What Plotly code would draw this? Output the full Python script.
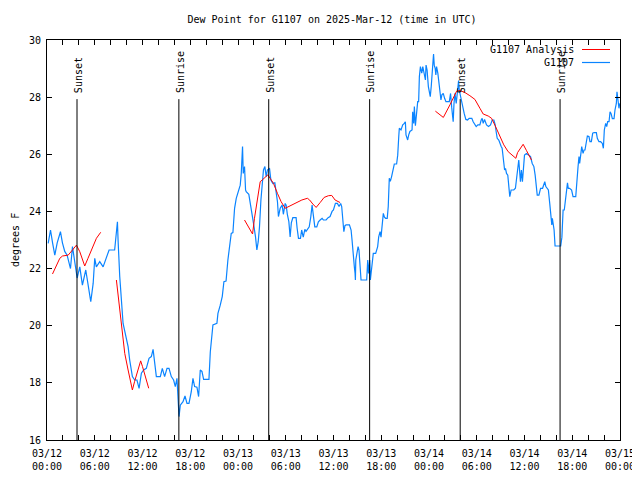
import plotly.graph_objects as go
import pandas as pd

# ---------------- data (hours after 2025-03-12 00:00 UTC, dew point in F) -------------
obs_hours = [
    0.15, 0.44, 0.70, 0.98, 1.28, 1.69, 1.94, 2.23, 2.53, 2.95, 3.20, 3.49, 3.79, 4.12, 4.45,
    4.87, 5.17, 5.50, 5.80, 6.00, 6.20, 6.63, 7.05, 7.47, 7.80, 8.50, 8.72, 8.85, 8.93, 9.14,
    9.56, 9.89, 10.19, 10.39, 10.73, 11.02, 11.30, 11.57, 11.86, 12.15, 12.48, 12.82, 13.11,
    13.33, 13.53, 13.74, 14.24, 14.49, 14.78, 15.08, 15.33, 15.62, 15.91, 16.12, 16.33, 16.46,
    16.59, 16.75, 17.09, 17.34, 17.59, 17.84, 18.13, 18.34, 18.55, 18.84, 19.05, 19.26, 19.47,
    19.68, 20.35, 20.52, 20.73, 20.85, 21.35, 21.48, 21.77, 22.02, 22.23, 22.50, 22.73, 22.94,
    23.15, 23.36, 23.57, 23.78, 24.07, 24.28, 24.41, 24.57, 24.66, 24.82, 24.95, 25.03, 25.36,
    25.53, 25.78, 25.95, 26.20, 26.37, 26.54, 26.70, 26.88, 27.04, 27.20, 27.38, 27.54, 27.70,
    27.96, 28.13, 28.38, 28.63, 28.80, 28.96, 29.08, 29.30, 29.55, 29.70, 29.93, 30.05, 30.20,
    30.39, 30.55, 30.70, 30.89, 31.30, 31.43, 31.60, 31.85, 32.00, 32.20, 32.40, 32.55, 32.74,
    32.95, 33.15, 33.31, 33.49, 33.65, 33.90, 34.10, 34.32, 34.57, 34.74, 35.07, 35.32, 35.57,
    35.82, 35.99, 36.24, 36.49, 36.70, 36.90, 37.03, 37.17, 37.30, 37.44, 37.58, 38.00, 38.21,
    38.33, 38.42, 38.50, 38.62, 38.71, 38.75, 38.80, 39.09, 39.20, 39.26, 39.36, 39.46, 40.17,
    40.30, 40.40, 40.55, 40.63, 40.84, 41.00, 41.30, 41.55, 41.68, 41.85, 41.97, 42.10, 42.26,
    42.40, 42.55, 42.75, 42.88, 43.01, 43.14, 43.30, 43.43, 43.64, 43.93, 44.07, 44.20, 44.27,
    44.48, 44.70, 44.90, 45.03, 45.11, 45.32, 45.45, 45.60, 45.87, 45.95, 46.08, 46.16, 46.29,
    46.46, 46.58, 46.70, 46.79, 46.92, 47.09, 47.22, 47.42, 47.55, 47.63, 47.76, 47.92, 48.03,
    48.16, 48.28, 48.37, 48.49, 48.57, 48.66, 48.78, 48.86, 48.95, 49.11, 49.24, 49.36, 49.50,
    49.62, 49.79, 49.96, 50.08, 50.13, 50.55, 50.71, 50.85, 50.96, 51.04, 51.14, 51.26, 51.42,
    51.60, 51.72, 51.80, 52.00, 52.20, 52.42, 52.63, 52.84, 53.05, 53.38, 53.55, 53.93, 54.14,
    54.39, 54.56, 54.68, 54.81, 54.98, 55.23, 55.48, 55.73, 55.94, 56.15, 56.32, 56.44, 56.57,
    56.77, 56.90, 57.07, 57.19, 57.32, 57.50, 57.61, 57.74, 57.90, 58.02, 58.15, 58.32, 58.65,
    58.86, 58.99, 59.16, 59.28, 59.41, 59.49, 59.61, 59.74, 60.00, 60.25, 60.55, 60.76, 60.97,
    61.18, 61.34, 61.47, 61.60, 61.81, 62.02, 62.27, 62.43, 62.55, 62.68, 63.00, 63.17, 63.30,
    63.43, 63.50, 63.60, 63.72, 63.84, 64.55, 64.70, 64.85, 65.00, 65.15, 65.30, 65.40, 65.50,
    65.67, 65.92, 66.10, 66.44, 66.56, 66.73, 66.85, 66.93, 67.06, 67.19, 67.36, 67.48, 67.60,
    67.78, 67.90, 68.10, 68.23, 68.40, 68.57, 68.74, 69.03, 69.15, 69.36, 69.57, 69.78, 69.91,
    70.03, 70.20, 70.33, 70.45, 70.62, 70.75, 70.87, 71.04, 71.25, 71.37, 71.54, 71.62, 71.74,
    71.87, 71.96,
]
obs_dewpt = [
    22.88, 23.35, 22.90, 22.47, 22.90, 23.29, 22.90, 22.60, 22.47, 22.00, 22.77, 22.30, 21.67, 22.06, 21.42,
    21.95, 21.48, 20.84, 21.48, 22.36, 22.06, 22.24, 22.06, 22.40, 22.65, 22.65, 23.35, 23.64, 23.00, 21.72,
    20.08, 19.62, 19.27, 18.80, 18.22, 18.10, 18.10, 17.81, 18.34, 18.45, 18.51, 18.86, 18.92,
    19.17, 18.68, 18.22, 18.22, 18.51, 18.22, 18.51, 18.51, 18.22, 18.10, 17.87, 18.16, 17.28,
    16.82, 17.22, 17.34, 17.54, 17.28, 17.28, 17.69, 18.16, 17.87, 17.85, 17.52, 18.45, 18.40,
    18.12, 18.12, 19.09, 19.62, 20.03, 20.08, 20.43, 20.72, 21.02, 21.54, 21.56, 22.30, 22.71,
    23.23, 23.26, 24.11, 24.46, 24.69, 24.92, 25.33, 26.27, 25.33, 25.57, 24.75, 24.69, 24.60,
    24.34, 23.82, 23.58, 23.11, 22.65, 22.94, 23.46, 24.40, 25.04, 25.45, 25.57, 25.22, 25.45,
    25.51, 25.10, 24.98, 25.00, 24.63, 24.34, 23.82, 24.11, 24.22, 23.90, 24.28, 24.22, 23.90,
    23.64, 23.11, 23.60, 23.78, 23.78, 23.41, 23.06, 23.06, 23.35, 23.10, 23.37, 23.30, 23.37,
    23.46, 23.82, 24.22, 23.82, 23.46, 23.46, 23.64, 23.70, 23.76, 23.70, 23.70, 23.78, 23.82,
    24.00, 24.05, 24.28, 24.28, 24.17, 24.28, 24.17, 23.53, 23.29, 23.50, 23.53, 23.53, 23.35,
    23.00, 22.59, 22.30, 22.06, 21.83, 21.60, 22.30, 22.77, 22.65, 22.40, 21.83, 21.60, 21.60,
    22.30, 21.83, 22.30, 21.60, 22.30, 22.53, 22.53, 22.77, 23.11, 23.29, 23.10, 23.64, 23.93,
    23.80, 23.76, 23.76, 24.17, 25.16, 25.05, 25.22, 25.45, 25.66, 25.66, 25.97, 26.62, 26.91,
    26.85, 27.03, 27.08, 27.14, 26.68, 26.50, 26.68, 26.80, 26.85, 27.49, 27.08, 27.67, 27.00,
    27.49, 27.84, 27.84, 28.72, 29.07, 28.84, 29.07, 28.72, 28.60, 29.12, 28.95, 28.37, 28.13,
    28.02, 28.37, 28.72, 29.18, 29.51, 29.12, 29.00, 28.78, 29.07, 28.84, 28.48, 28.13, 27.90,
    28.08, 28.13, 27.96, 27.90, 27.84, 27.84, 28.13, 27.65, 27.32, 27.14, 27.78, 28.13, 27.78,
    28.43, 28.58, 28.25, 27.96, 27.78, 27.43, 27.22, 27.20, 27.26, 27.26, 27.14, 26.97, 27.03,
    27.03, 27.20, 27.26, 27.08, 27.22, 27.03, 26.97, 27.03, 27.20, 27.20, 27.03, 26.79, 26.56,
    26.50, 26.38, 26.27, 26.21, 25.92, 25.45, 25.51, 25.33, 25.27, 24.81, 24.52, 24.75, 24.75,
    24.81, 25.10, 25.68, 25.80, 25.33, 25.04, 25.45, 25.04, 25.97, 26.03, 25.97, 25.92, 25.68,
    25.57, 25.27, 24.87, 24.57, 24.57, 24.81, 24.81, 24.98, 25.04, 24.87, 24.75, 24.28, 23.82,
    23.53, 23.76, 23.50, 23.35, 22.79, 22.79, 23.10, 24.05, 24.05, 24.34, 24.81, 25.00, 24.81,
    24.81, 24.75, 24.52, 24.52, 25.10, 25.57, 25.92, 25.68, 25.97, 26.27, 26.03, 26.15, 26.15,
    26.56, 26.64, 26.62, 26.44, 26.44, 26.74, 26.76, 26.76, 26.56, 26.44, 26.44, 26.38, 26.21,
    26.85, 27.08, 26.97, 27.14, 27.14, 27.49, 27.43, 27.25, 27.25, 27.55, 27.78, 28.19, 27.96,
    27.61, 27.78,
]

ana_hours = [
    0.69, 1.61, 1.95, 2.66, 3.20, 3.70, 4.12, 4.45, 4.74, 5.15, 5.80, 6.21, 6.75, None,
    8.72, 9.06, 9.35, 9.77, 10.19, 10.48, 10.73, 11.00, 11.44, 11.77, 12.00, 12.40, 12.78, None,
    24.82, 25.83, 26.07, 26.45, 26.79, 27.12, 27.54, 27.75, 28.04, 28.46, 28.96, 29.42, 29.93,
    30.55, 31.39, 32.02, 32.72, 33.00, 33.40, 33.82, 34.32, 34.82, 35.36, 35.78, 36.20, 36.83, None,
    48.80, 49.80, 50.63, 51.47, 51.90, 52.52, 53.14, 53.77, 54.40, 54.81, 55.44, 55.86, 56.28,
    56.90, 57.40, 57.95, 58.57, 58.91, 59.13, 59.42, 59.83, 60.25, 60.88,
]
ana_dewpt = [
    21.81, 22.36, 22.44, 22.47, 22.65, 22.82, 22.59, 22.30, 22.09, 22.36, 22.82, 23.06, 23.27, None,
    21.60, 20.78, 19.85, 19.03, 18.45, 18.04, 17.75, 18.04, 18.45, 18.77, 18.57, 18.16, 17.81, None,
    23.70, 23.21, 23.76, 24.40, 25.04, 25.12, 25.24, 25.28, 25.16, 24.98, 24.63, 24.34, 24.11,
    24.19, 24.31, 24.40, 24.46, 24.40, 24.26, 24.14, 24.31, 24.49, 24.55, 24.56, 24.40, 24.31, None,
    27.51, 27.29, 27.73, 28.21, 28.23, 28.16, 28.05, 27.92, 27.61, 27.41, 27.34, 27.26, 27.02,
    26.64, 26.33, 26.09, 25.94, 25.86, 26.06, 26.18, 26.35, 26.13, 25.80,
]

event_hours = [3.77, 16.57, 27.86, 40.54, 51.92, 64.47]
event_labels = ["Sunset", "Sunrise", "Sunset", "Sunrise", "Sunset", "Sunrise"]
event_line_top = 27.93

y_ticks = [16, 18, 20, 22, 24, 26, 28, 30]
x_tick_step_hours = 2
x_label_step_hours = 6
series_names = ["G1107 Analysis", "G1107"]
title_text = "Dew Point for G1107 on 2025-Mar-12 (time in UTC)"
y_title = "degrees F"

# ---------------- helpers -------------
BASE = pd.Timestamp("2025-03-12 00:00")


def to_time(hours):
    return [None if h is None else BASE + pd.Timedelta(hours=h) for h in hours]


FONT = "DejaVu Sans Mono, Liberation Mono, monospace"
RED = "#ff0000"
BLUE = "#0a84ff"

# the page body has an 8px default margin: size the figure to compensate
OFF = 8
W, H = 640 - OFF, 480 - OFF
L, R, T, B = 47 - OFF, 20, 40 - OFF, 40
PW, PH = W - L - R, H - T - B


def px_x(x):
    return (x - OFF - L) / PW


def px_y(y):
    return 1 - (y - OFF - T) / PH


fig = go.Figure()
fig.add_trace(go.Scatter(x=to_time(obs_hours), y=obs_dewpt, mode="lines",
                         line=dict(color=BLUE, width=1.2), name=series_names[1]))
fig.add_trace(go.Scatter(x=to_time(ana_hours), y=ana_dewpt, mode="lines",
                         line=dict(color=RED, width=1), name=series_names[0],
                         connectgaps=False))

# sunrise / sunset markers
for h, lab in zip(event_hours, event_labels):
    t = BASE + pd.Timedelta(hours=h)
    fig.add_shape(type="line", xref="x", yref="y", x0=t, x1=t, y0=y_ticks[0], y1=event_line_top,
                  line=dict(color="black", width=1))
    fig.add_annotation(x=t, y=event_line_top, xref="x", yref="y", text=lab, textangle=-90,
                       showarrow=False, xanchor="center", yanchor="bottom", yshift=4, xshift=1,
                       font=dict(family=FONT, size=10, color="black"))

# ticks
tick_hours = list(range(0, 73, x_tick_step_hours))
tick_vals = [BASE + pd.Timedelta(hours=h) for h in tick_hours]
tick_text = [f"{t:%m/%d}<br>{t:%H:%M}" if h % x_label_step_hours == 0 else ""
             for h, t in zip(tick_hours, tick_vals)]

# manual gnuplot-style key (text right, sample on the right)
for i, (name, col) in enumerate(zip(series_names, [RED, BLUE])):
    yy = px_y(49.5 + 13 * i)
    fig.add_annotation(xref="paper", yref="paper", x=px_x(576), y=yy, text=name,
                       showarrow=False, xanchor="right", yanchor="middle",
                       font=dict(family=FONT, size=10, color="black"))
    fig.add_shape(type="line", xref="paper", yref="paper", x0=px_x(582), x1=px_x(610),
                  y0=yy, y1=yy, line=dict(color=col, width=1.2 if i else 1))

fig.add_annotation(xref="paper", yref="paper", x=px_x(15), y=0.5, text=y_title,
                   textangle=-90, showarrow=False, xanchor="center", yanchor="middle",
                   font=dict(family=FONT, size=10, color="black"))

fig.update_layout(
    width=W, height=H,
    margin=dict(l=L, r=R, t=T, b=B, autoexpand=False),
    paper_bgcolor="white", plot_bgcolor="white",
    showlegend=False,
    font=dict(family=FONT, size=10, color="black"),
    title=dict(text=title_text, x=px_x(332), xanchor="center", xref="paper",
               y=1 - (19 - OFF) / H, yanchor="middle", yref="container",
               font=dict(family=FONT, size=10, color="black")),
)
fig.update_xaxes(
    range=[BASE, BASE + pd.Timedelta(hours=72)],
    tickvals=tick_vals, ticktext=tick_text,
    ticks="inside", ticklen=5, tickcolor="black", tickwidth=1,
    showline=True, linecolor="black", linewidth=1, mirror="ticks",
    showgrid=False, zeroline=False, ticklabelstandoff=4,
    tickfont=dict(family=FONT, size=10, color="black"),
)
fig.update_yaxes(
    range=[16, 30], tickvals=y_ticks,
    ticks="inside", ticklen=5, tickcolor="black", tickwidth=1,
    showline=True, linecolor="black", linewidth=1, mirror="ticks",
    showgrid=False, zeroline=False, ticklabelstandoff=3,
    tickfont=dict(family=FONT, size=10, color="black"),
)

fig.write_html("out.html")
